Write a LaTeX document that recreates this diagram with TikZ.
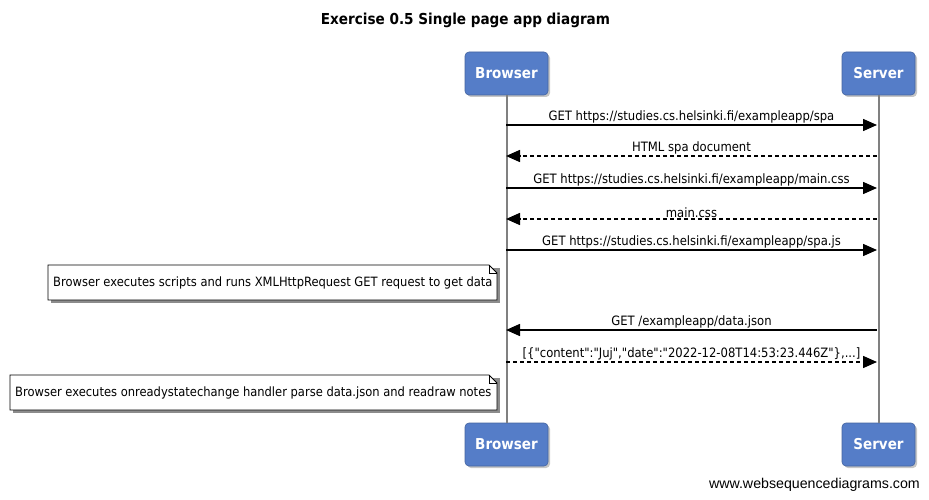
\documentclass[tikz,border=0pt]{standalone}
\usepackage{fontspec}
\setmainfont{DejaVu Sans Condensed}
\setsansfont{Liberation Sans}
\newfontfamily\jsonfont{DejaVu Sans Condensed}[Ligatures=TeXOff]
\usetikzlibrary{arrows.meta,shadows}
\definecolor{actorblue}{RGB}{85,125,200}
\definecolor{lifegray}{RGB}{128,128,128}
\tikzset{
  actor/.style={draw=actorblue!80!black, line width=0.6pt, fill=actorblue, rounded corners=4pt,
    text=white, font=\fontsize{15}{18}\selectfont\bfseries, inner sep=0pt,
    minimum height=43pt, drop shadow={shadow xshift=2pt, shadow yshift=-2pt, opacity=0.45}},
  life/.style={draw=lifegray, line width=2pt},
  msg/.style={line width=1.5pt, -{Triangle[length=14pt,width=12pt]}},
  rmsg/.style={msg, dash pattern=on 4pt off 3pt},
  lbl/.style={font=\fontsize{12.9}{15}\selectfont, inner sep=0.5pt, above=0.5pt},
  notetext/.style={font=\fontsize{12.8}{15}\selectfont, inner sep=0pt, anchor=west},
}
\newcommand{\notebox}[5]{% name, x1, y1, x2, y2
  \fill[black!45] (#2+3,#3+3) -- (#4+3,#3+3) -- (#4+3,#5+3) -- (#2+3,#5+3) -- cycle;
  \filldraw[fill=white, draw=black, line width=0.8pt] (#2,#3) -- (#4-8,#3) -- (#4,#3+8) -- (#4,#5) -- (#2,#5) -- cycle;
  \draw[line width=0.8pt] (#4-8,#3) -- (#4-8,#3+8) -- (#4,#3+8);
}
\begin{document}
\begin{tikzpicture}[x=1pt, y=-1pt]
\useasboundingbox (0,0) rectangle (929,500);
\node[font=\fontsize{15.1}{18}\selectfont\bfseries] (title) at (465.5,20) {Exercise 0.5 Single page app diagram};

\node[actor, minimum width=83pt] (b1) at (506.5,73.5) {Browser};
\node[actor, minimum width=73pt] (s1) at (878.5,73.5) {Server};
\node[actor, minimum width=83pt] (b2) at (506.5,444.5) {Browser};
\node[actor, minimum width=73pt] (s2) at (878.5,444.5) {Server};
\draw[life] (b1) -- (b2);
\draw[life] (s1) -- (s2);

\foreach \y in {125,156,188,219,250,330,362}{
  \coordinate (b\y) at (506,\y);
  \coordinate (s\y) at (877,\y);
}
\draw[msg] (b125) -- node[lbl] {GET https://studies.cs.helsinki.fi/exampleapp/spa} (s125);
\draw[rmsg] (s156) -- node[lbl] {HTML spa document} (b156);
\draw[msg] (b188) -- node[lbl] {GET https://studies.cs.helsinki.fi/exampleapp/main.css} (s188);
\draw[rmsg] (s219) -- node[lbl] {main.css} (b219);
\draw[msg] (b250) -- node[lbl] {GET https://studies.cs.helsinki.fi/exampleapp/spa.js} (s250);
\draw[msg] (s330) -- node[lbl] {GET /exampleapp/data.json} (b330);
\draw[rmsg] (b362) -- node[lbl] {\jsonfont [\{"content":"Juj","date":"2022-12-08T14:53:23.446Z"\},...]} (s362);

\notebox{n1}{48}{265}{497}{300}
\node[notetext] (n1) at (53,282.5) {Browser executes scripts and runs XMLHttpRequest GET request to get data};
\notebox{n2}{10}{375}{497}{410}
\node[notetext] (n2) at (15,392.5) {Browser executes onreadystatechange handler parse data.json and readraw notes};

\node[font=\sffamily\fontsize{14.2}{16}\selectfont, anchor=east, inner sep=0pt] (wsd) at (920,485) {www.websequencediagrams.com};
\end{tikzpicture}
\end{document}
